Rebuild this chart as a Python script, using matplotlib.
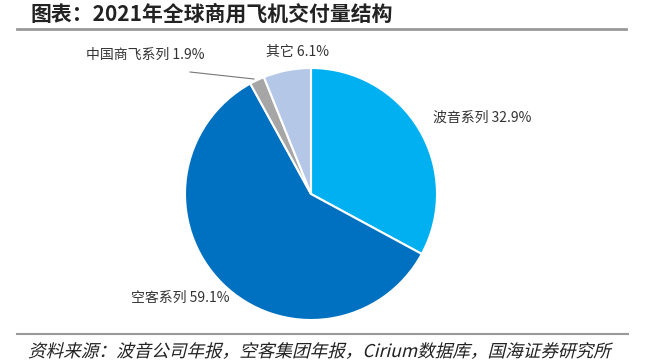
import matplotlib
matplotlib.use("Agg")
import matplotlib.pyplot as plt
from matplotlib.textpath import TextPath
from matplotlib.patches import PathPatch
from matplotlib.font_manager import FontProperties
from matplotlib.transforms import Affine2D

plt.rcParams['font.family'] = ['Noto Sans CJK SC', 'DejaVu Sans']

# data
labels = ['波音系列', '空客系列', '中国商飞系列', '其它']
shares = [32.9, 59.1, 1.9, 6.1]
colors = ['#00B0F0', '#0070C0', '#A6A6A6', '#B4C7E7']
title = '图表：2021年全球商用飞机交付量结构'
source = '资料来源：波音公司年报，空客集团年报，Cirium数据库，国海证券研究所'

W, H = 655, 364
fig = plt.figure(figsize=(W / 100, H / 100), dpi=100)
ax = fig.add_axes([0, 0, 1, 1])

cx, cy, r = 311, 194, 126
# y axis is inverted (pixel coords), so start at -90 and go counterclockwise
# to get a clockwise pie starting from the top on screen
ax.pie(shares, colors=colors, startangle=-90, counterclock=True,
       radius=r, center=(cx, cy),
       wedgeprops=dict(edgecolor='white', linewidth=1.5))
ax.set_aspect('equal')
ax.set_xlim(0, W)
ax.set_ylim(H, 0)
ax.axis('off')

lab_pos = [(482, 118), (180, 298), (145, 55), (298, 52)]
for (x, y), name, v in zip(lab_pos, labels, shares):
    ax.text(x, y, f'{name} {v}%', ha='center', va='center', fontsize=10, color='#333333')

# leader line for the small slice
ax.plot([190, 254], [72, 79], color='#777777', lw=0.8)

fig.text(30 / W, 1 - 14 / H, title, fontsize=15, fontweight='bold', ha='left', va='center', color='#222222')
ax.plot([17, 626], [28.5, 28.5], color='#999999', lw=2)
ax.plot([17, 628], [334, 334], color='#999999', lw=1.5)

# slanted source note (CJK font has no italic, so skew the glyph path)
tp = TextPath((0, 0), source, size=17.6, prop=FontProperties(family=['Noto Sans CJK SC', 'DejaVu Sans']))
tr = Affine2D().skew_deg(14, 0).scale(1, -1).translate(28, 357) + ax.transData
ax.add_patch(PathPatch(tp, transform=tr, facecolor='#222222', edgecolor='none'))

fig.savefig('out.png', dpi=100)
